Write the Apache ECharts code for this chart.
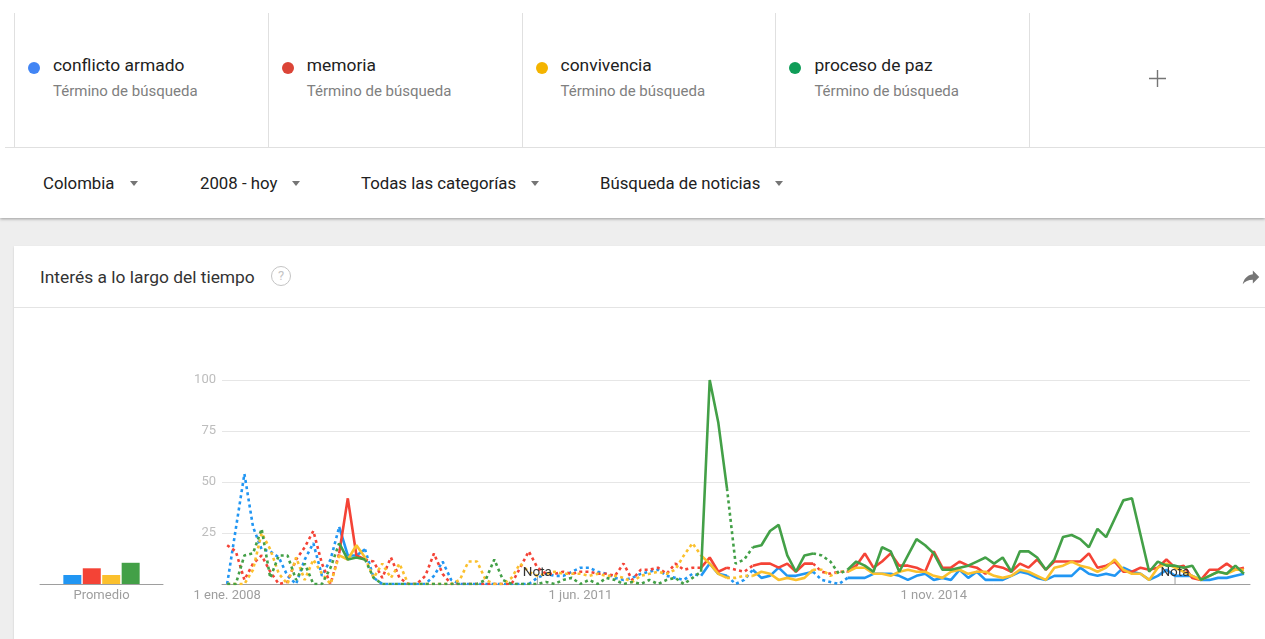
<!DOCTYPE html>
<html>
<head>
<meta charset="utf-8">
<script src="https://cdn.jsdelivr.net/npm/echarts@6/dist/echarts.min.js"></script>
<style>
  html, body { margin: 0; padding: 0; }
  body { width: 1265px; height: 639px; overflow: hidden; position: relative; background: #eeeeee; font-family: Roboto, 'Noto Sans', sans-serif; }
  #top { position: absolute; left: 0; top: 0; width: 1265px; height: 218px; background: #fff; box-shadow: 0 1px 3px rgba(0,0,0,.35); z-index: 2; }
  .term { position: absolute; top: 13px; height: 134px; width: 253px; border-left: 1px solid #e0e0e0; }
  .term .dot { position: absolute; left: 13px; top: 49px; width: 12px; height: 12px; border-radius: 50%; }
  .term .name { position: absolute; left: 38px; top: 42px; font-size: 17.4px; line-height: 20px; color: #212121; white-space: nowrap; }
  .term .sub { position: absolute; left: 38px; top: 69px; font-size: 15px; line-height: 18px; color: #808080; white-space: nowrap; }
  #hline { position: absolute; left: 5px; right: 0; top: 147px; height: 1px; background: #e0e0e0; }
  .filter { position: absolute; top: 173px; font-size: 16.8px; line-height: 20px; color: #212121; white-space: nowrap; }
  .filter .arr { display: inline-block; width: 0; height: 0; border-left: 4.5px solid transparent; border-right: 4.5px solid transparent; border-top: 5px solid #757575; margin-left: 15px; vertical-align: 3px; }
  #card { position: absolute; left: 14px; top: 246px; width: 1260px; height: 400px; background: #fff; box-shadow: 0 1px 2px rgba(0,0,0,.15); z-index: 1; }
  #card .title { position: absolute; left: 26px; top: 21px; font-size: 17.4px; line-height: 20px; color: #333; white-space: nowrap; }
  #card .help { position: absolute; left: 257px; top: 20px; width: 18px; height: 18px; border: 1.5px solid #c4c4c4; border-radius: 50%; color: #c4c4c4; font-size: 13px; line-height: 18px; text-align: center; }
  #card .divider { position: absolute; left: 0; right: 0; top: 61px; height: 1px; background: #e4e4e4; }
  #card .share { position: absolute; left: 1226px; top: 20px; }
  #chart { position: absolute; left: 0; top: 0; width: 1265px; height: 639px; z-index: 3; }
</style>
</head>
<body>
<div id="top">
  <div id="terms"></div>
  <div class="term" style="left:1029px">
    <svg style="position:absolute;left:119px;top:57px" width="17" height="17"><path d="M8.5 0v17M0 8.5h17" stroke="#757575" stroke-width="1.4"/></svg>
  </div>
  <div id="hline"></div>
  <div class="filter" style="left:43px">Colombia<span class="arr"></span></div>
  <div class="filter" style="left:200px">2008 - hoy<span class="arr"></span></div>
  <div class="filter" style="left:361px">Todas las categorías<span class="arr"></span></div>
  <div class="filter" style="left:600px">Búsqueda de noticias<span class="arr"></span></div>
</div>
<div id="card">
  <div class="title">Interés a lo largo del tiempo</div>
  <div class="help">?</div>
  <svg class="share" width="22" height="22" viewBox="0 0 24 24"><path transform="translate(24,0) scale(-1,1)" d="M10 9V5l-7 7 7 7v-4.1c5 0 8.5 1.6 11 5.1-1-5-4-10-11-11z" fill="#757575"/></svg>
  <div class="divider"></div>
</div>
<div id="chart"></div>
<script>
const terms = ['conflicto armado', 'memoria', 'convivencia', 'proceso de paz'];
const termDots = ['#4285f4', '#db4437', '#f4b400', '#0f9d58'];
const lineColors = ['#2196f3', '#f44336', '#fbc02d', '#43a047'];

// monthly index 0 = ene 2008
const tickIdx = [0, 41, 82];
const tickLabels = ['1 ene. 2008', '1 jun. 2011', '1 nov. 2014'];
const notaIdx = [36, 110];
// index ranges drawn solid; the rest is dotted
const solidRanges = [[13, 16], [55, 58], [61, 68], [72, 118]];

const conflicto = [0, 27, 54, 28, 17, 16, 13, 4, 0, 12, 20, 4, 12, 28, 14, 14, 17, 3, 0, 0,
  0, 0, 0, 0, 4, 11, 2, 0, 0, 0, 0, 0, 0, 0, 0, 0, 3, 5, 4, 4,
  6, 8, 8, 6, 5, 3, 2, 3, 5, 6, 7, 4, 3, 2, 5, 4, 10, 5, 4, 0,
  2, 7, 3, 4, 8, 4, 4, 5, 6, 2, 1, 0, 3, 3, 3, 5, 5, 5, 4, 2,
  4, 5, 2, 3, 2, 7, 3, 6, 2, 2, 2, 4, 6, 5, 3, 2, 4, 4, 4, 8,
  5, 4, 5, 4, 8, 6, 5, 2, 4, 7, 4, 4, 4, 2, 2, 3, 3, 4, 5];
const memoria = [19, 16, 2, 10, 14, 6, 0, 1, 12, 18, 26, 10, 0, 15, 42, 14, 12, 11, 3, 13,
  3, 0, 0, 4, 15, 5, 0, 0, 0, 0, 0, 0, 0, 0, 8, 16, 8, 5, 5, 6,
  5, 6, 6, 5, 5, 4, 10, 2, 7, 7, 8, 5, 10, 7, 8, 8, 13, 6, 8, 7,
  6, 9, 10, 10, 8, 10, 6, 10, 10, 6, 5, 6, 6, 9, 15, 8, 11, 15, 9, 9,
  8, 6, 16, 8, 8, 11, 9, 8, 5, 9, 8, 6, 10, 8, 12, 7, 11, 11, 11, 11,
  15, 8, 9, 11, 6, 6, 8, 7, 8, 12, 8, 9, 3, 2, 7, 7, 10, 7, 8];
const convivencia = [0, 0, 0, 7, 25, 17, 5, 0, 13, 2, 12, 5, 0, 14, 12, 19, 13, 3, 10, 3,
  10, 0, 0, 0, 0, 0, 0, 2, 11, 11, 2, 0, 0, 3, 10, 6, 4, 5, 6, 5,
  5, 5, 4, 5, 4, 4, 3, 1, 4, 5, 6, 5, 7, 14, 20, 14, 10, 5, 3, 3,
  4, 4, 6, 5, 2, 3, 2, 3, 7, 7, 4, 6, 6, 8, 8, 5, 5, 4, 6, 7,
  6, 6, 4, 3, 6, 7, 5, 6, 6, 4, 3, 4, 7, 6, 4, 2, 8, 9, 11, 9,
  8, 6, 8, 12, 7, 5, 5, 2, 8, 10, 8, 6, 4, 2, 4, 6, 5, 7, 7];
const procesoPaz = [0, 0, 14, 15, 27, 3, 14, 14, 2, 10, 0, 0, 8, 20, 12, 13, 12, 3, 0, 0,
  0, 0, 0, 0, 0, 0, 0, 0, 0, 0, 2, 12, 2, 0, 0, 0, 0, 1, 0, 2,
  3, 0, 2, 0, 3, 2, 0, 1, 0, 2, 0, 2, 3, 0, 3, 6, 100, 79, 47, 10,
  12, 18, 19, 26, 29, 14, 6, 14, 15, 14, 11, 5, 7, 11, 9, 6, 18, 16, 6, 14,
  22, 19, 15, 7, 7, 8, 9, 11, 13, 10, 13, 6, 16, 16, 13, 7, 12, 23, 24, 22,
  18, 27, 23, 32, 41, 42, 24, 6, 11, 9, 9, 8, 9, 2, 4, 6, 5, 9, 5];
const promedio = [4.4, 7.7, 4.4, 10.4];

const seriesValues = [conflicto, memoria, convivencia, procesoPaz];

// header term cards
const termsBox = document.getElementById('terms');
terms.forEach((t, k) => {
  const d = document.createElement('div');
  d.className = 'term';
  d.style.left = (14 + k * 253.8) + 'px';
  d.innerHTML = '<div class="dot" style="background:' + termDots[k] + '"></div>' +
    '<div class="name">' + t + '</div><div class="sub">Término de búsqueda</div>';
  termsBox.appendChild(d);
});

function segSolid(i) {
  return solidRanges.some(r => r[0] <= i && i + 1 <= r[1]);
}
function solidData(vals) {
  return vals.map((v, i) => [i, (segSolid(i) || segSolid(i - 1)) ? v : null]);
}
function dottedData(vals) {
  return vals.map((v, i) => {
    const before = i > 0 && !segSolid(i - 1);
    const after = i < vals.length - 1 && !segSolid(i);
    return [i, (before || after) ? v : null];
  });
}

const lineSeries = [];
seriesValues.forEach((vals, k) => {
  lineSeries.push({
    name: terms[k], type: 'line', xAxisIndex: 1, yAxisIndex: 1,
    data: dottedData(vals), symbol: 'none', connectNulls: false, silent: true,
    lineStyle: { color: lineColors[k], width: 2.6, type: [3, 3.2] }
  });
  lineSeries.push({
    name: terms[k], type: 'line', xAxisIndex: 1, yAxisIndex: 1,
    data: solidData(vals), symbol: 'none', connectNulls: false, silent: true,
    lineStyle: { color: lineColors[k], width: 2.6 }
  });
});
lineSeries[lineSeries.length - 1].markPoint = {
  symbol: 'rect', symbolSize: [1, 7], symbolOffset: [0, -3.5], silent: true,
  itemStyle: { color: '#9e9e9e' },
  label: { show: true, position: 'top', distance: 0, offset: [0, 3], formatter: 'Nota', color: '#333', fontSize: 13.5 },
  data: notaIdx.map(i => ({ coord: [i, 0] }))
};

const barSeries = promedio.map((v, k) => ({
  name: terms[k], type: 'bar', xAxisIndex: 0, yAxisIndex: 0,
  data: [v], barWidth: 18, barGap: '8%', silent: true,
  itemStyle: { color: lineColors[k] }
}));

const chart = echarts.init(document.getElementById('chart'), null, { renderer: 'canvas' });
chart.setOption({
  animation: false,
  textStyle: { fontFamily: 'Roboto' },
  grid: [
    { left: 40, width: 123, top: 380, bottom: 55 },
    { left: 222, right: 15, top: 380, bottom: 55 }
  ],
  xAxis: [
    {
      type: 'category', gridIndex: 0, data: ['Promedio'],
      axisLine: { lineStyle: { color: '#9e9e9e' } }, axisTick: { show: false },
      axisLabel: { color: '#9e9e9e', fontSize: 13, margin: 5 }
    },
    {
      type: 'value', gridIndex: 1, min: -0.6, max: 118.7,
      splitLine: { show: false }, axisTick: { show: false },
      axisLine: { show: true, lineStyle: { color: '#9e9e9e' } },
      axisLabel: {
        customValues: tickIdx, color: '#9e9e9e', fontSize: 13, margin: 5,
        formatter: v => tickLabels[tickIdx.indexOf(v)] || ''
      }
    }
  ],
  yAxis: [
    { type: 'value', gridIndex: 0, min: 0, max: 100, show: false },
    {
      type: 'value', gridIndex: 1, min: 0, max: 100, interval: 25,
      axisLine: { show: false }, axisTick: { show: false },
      splitLine: { lineStyle: { color: '#e6e6e6' } },
      axisLabel: { color: '#bdbdbd', fontSize: 13, margin: 6, formatter: v => v === 0 ? '' : v }
    }
  ],
  series: barSeries.concat(lineSeries)
});
</script>
</body>
</html>
